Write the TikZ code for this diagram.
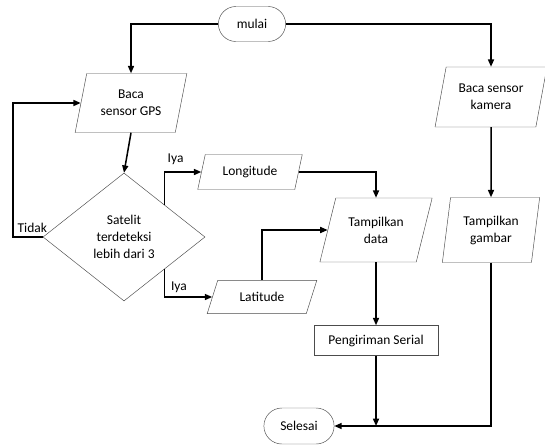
\documentclass[tikz,border=0pt]{standalone}
\usepackage{fontspec}
\setmainfont{Carlito}
\usepackage{tikz}
\usetikzlibrary{positioning, arrows.meta, shapes.geometric, shapes.misc}

\begin{document}
\begin{tikzpicture}[
  x=0.03cm, y=-0.03cm,
  every node/.style={font=\fontsize{11.5}{14.5}\selectfont, align=center},
  arrow/.style={-{Triangle[length=2.2mm, width=1.8mm]}, line width=1.3pt},
  terminal/.style={draw=black!70, rounded rectangle},
  io/.style={draw=black!70, trapezium, trapezium stretches=true,
             trapezium left angle=75, trapezium right angle=105},
  proses/.style={draw=black!70, rectangle}
]
  \useasboundingbox (0,0) rectangle (545,447);

  \node (mulai) [terminal, minimum width=2.25cm, minimum height=1.05cm] at (252,24) {mulai};
  \node (gps) [io, minimum width=3.36cm, minimum height=1.77cm] at (131,103) {Baca\\sensor GPS};
  \node (kamera) [io, minimum width=3.36cm, minimum height=1.8cm] at (491,97) {Baca sensor\\kamera};
  \node (satelit) [draw=black!70, diamond, aspect=1.27, minimum width=4.86cm,
        minimum height=3.84cm] at (124,237) {Satelit\\terdeteksi\\lebih dari 3};
  \node (longi) [io, minimum width=3.15cm, minimum height=1.05cm] at (250,172) {Longitude};
  \node (lati) [io, minimum width=3.3cm, minimum height=1cm,
        trapezium left angle=70, trapezium right angle=110] at (262,297) {Latitude};
  \node (data) [io, minimum width=3.39cm, minimum height=1.92cm,
        trapezium left angle=70, trapezium right angle=110] at (376,230) {Tampilkan\\data};
  \node (gambar) [io, minimum width=2.94cm, minimum height=1.95cm,
        trapezium left angle=80, trapezium right angle=100] at (491,230) {Tampilkan\\gambar};
  \node[below=1.89cm of data] (kirim) [proses, minimum width=3.72cm,
       minimum height=0.9cm] {Pengiriman Serial};
  \node (selesai) [terminal, minimum width=2.34cm, minimum height=1.08cm] at (299,426) {Selesai};

  \draw[arrow] (mulai.west) -| (gps.north);
  \draw[arrow] (mulai.east) -| (kamera.north);
  \draw[arrow] (gps.south) -- (satelit.north);
  \draw[arrow] (satelit.west) -- node[above, pos=0.35]{Tidak} ++(-30,0) |- (gps.west);
  \draw[arrow] (satelit.north east) |- node[pos=0.65, above=2pt]{Iya} (longi.west);
  \draw[arrow] (satelit.south east) |- node[pos=0.65, above]{Iya} (lati.west);
  \draw[arrow] (longi.east) -| (data.north);
  \draw[arrow] (lati.north) |- (data.west);
  \draw[arrow] (data.south) -- (kirim.north);
  \draw[arrow] (kamera.south) -- (gambar.north);
  \draw[arrow] (gambar.south) |- (selesai.east);
  \draw[arrow] (kirim.south) -- (kirim.south |- selesai.east);
\end{tikzpicture}
\end{document}
